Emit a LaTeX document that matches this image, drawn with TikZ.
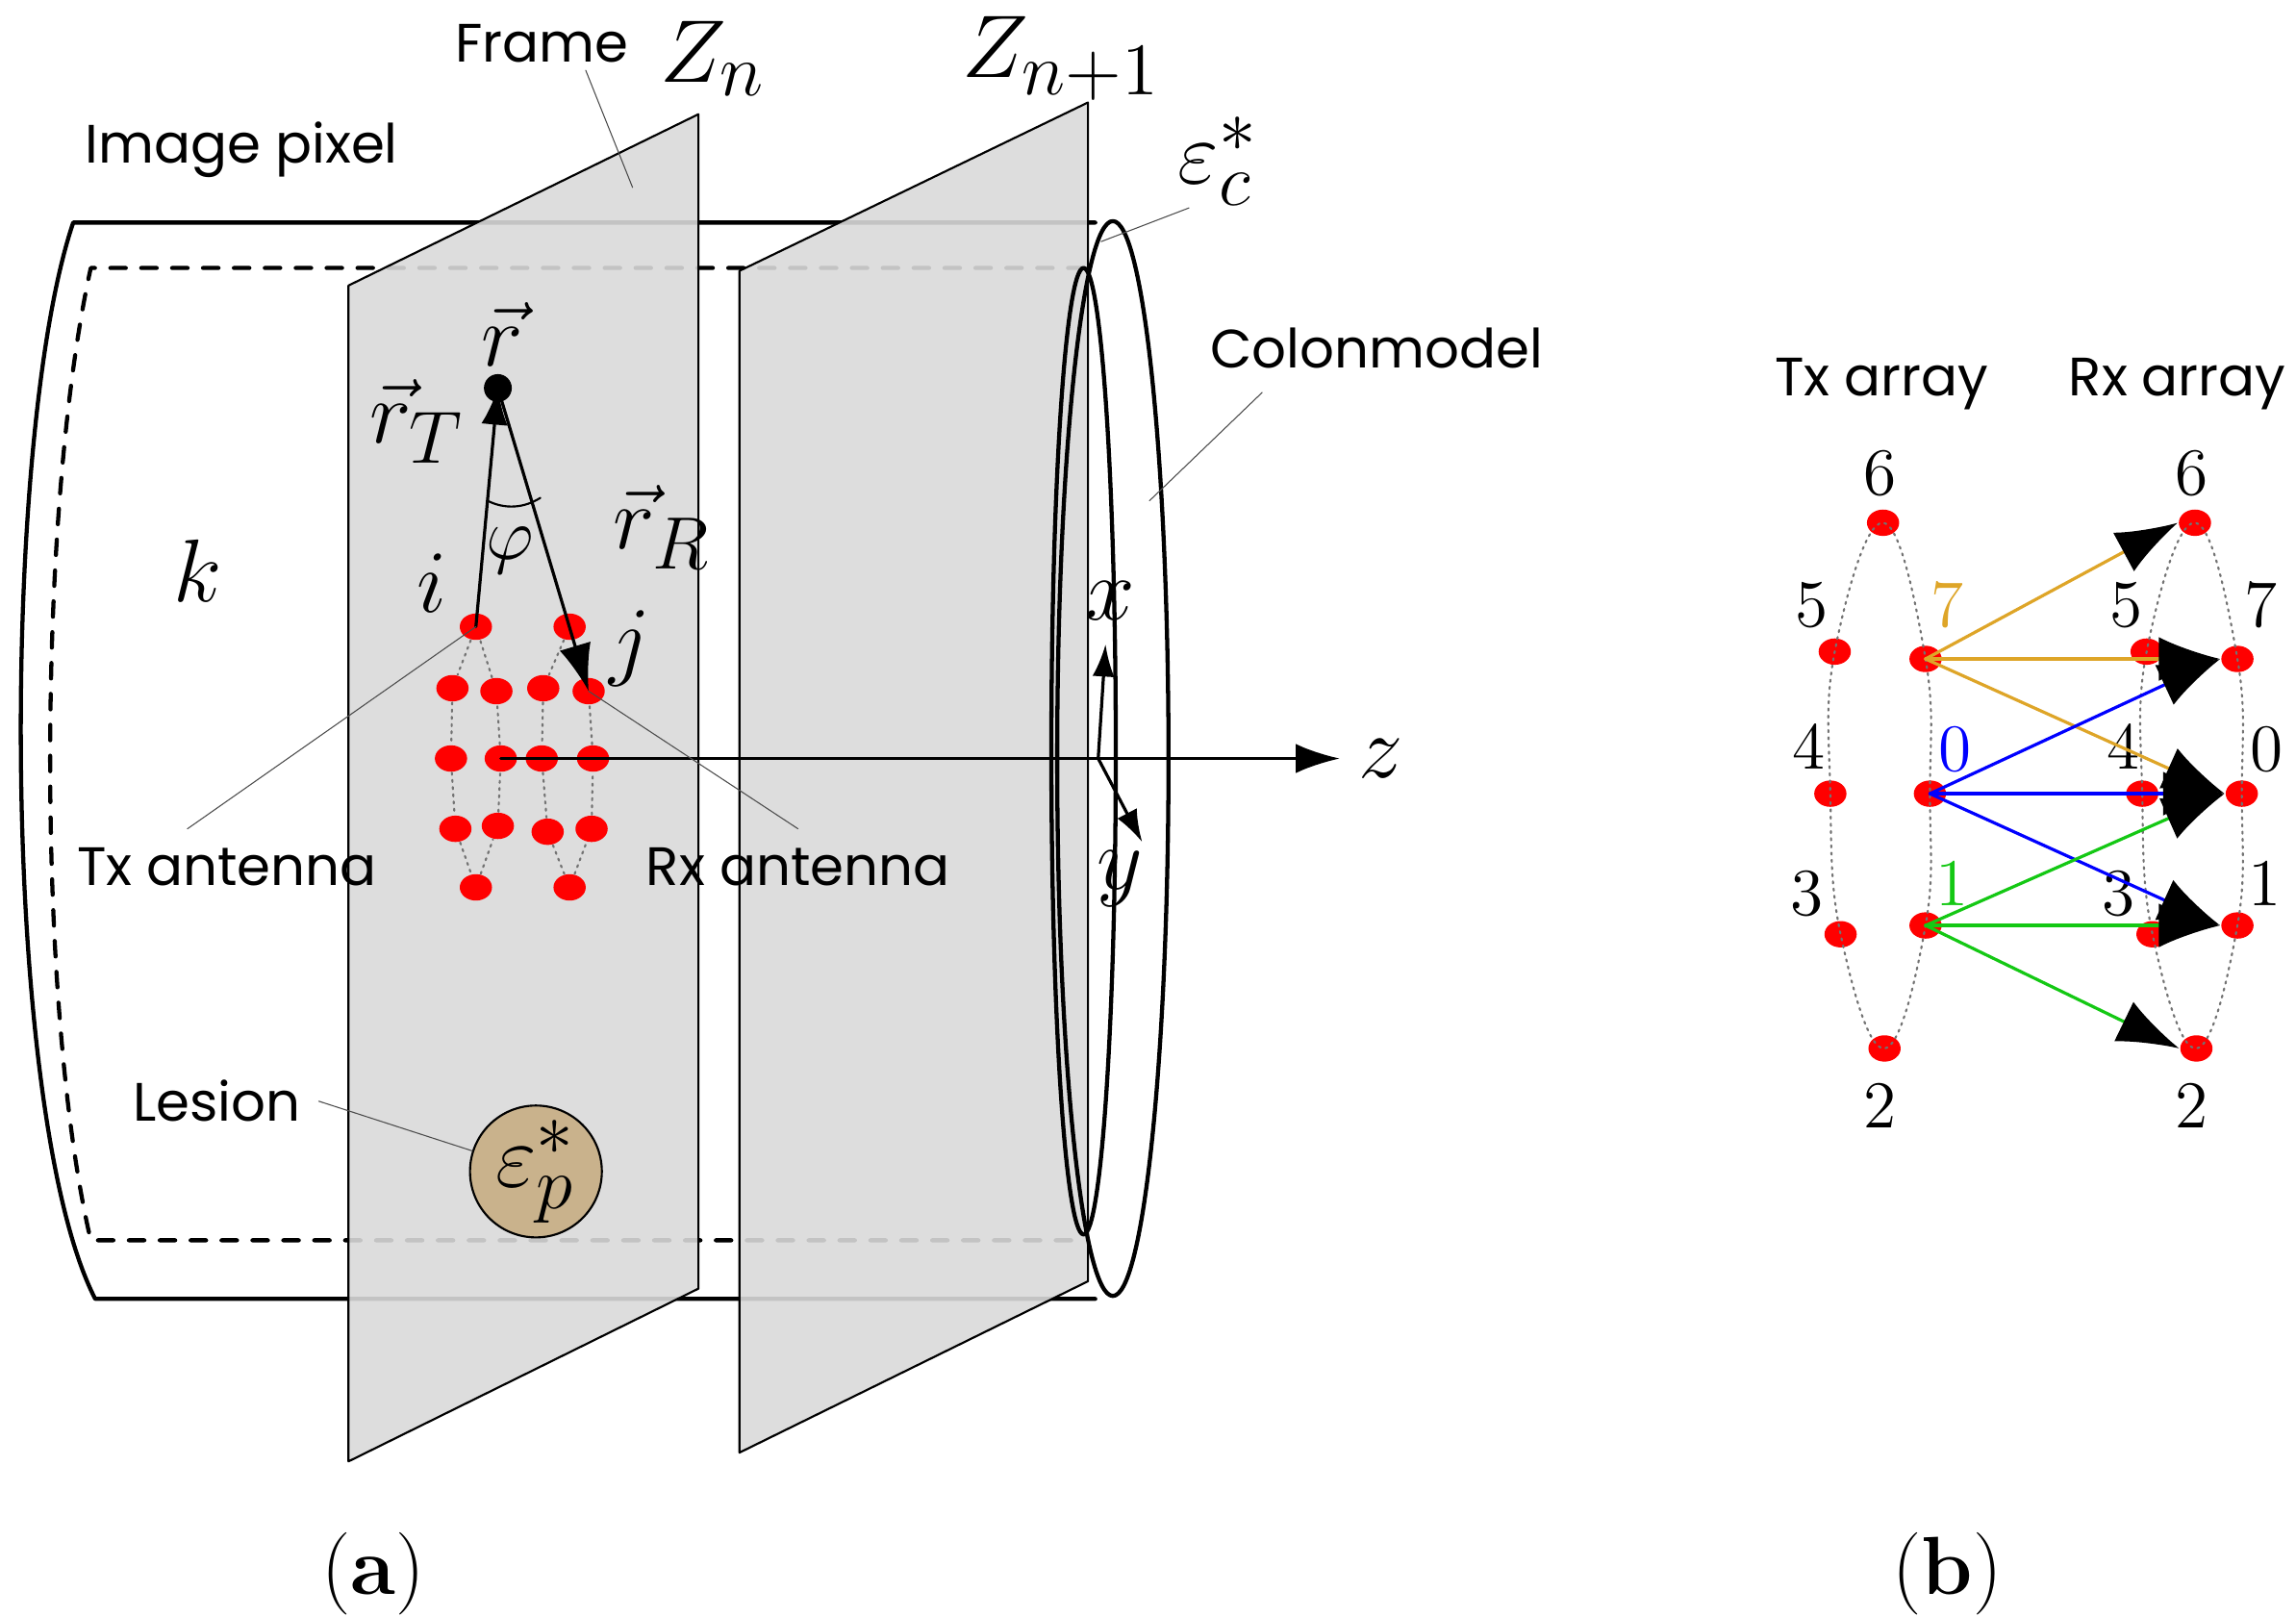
\documentclass[tikz,border=0pt]{standalone}
\usepackage{fontspec}
\usepackage{amsmath}
\setsansfont{Poppins}
\usetikzlibrary{arrows.meta,shapes.geometric}
\definecolor{plane}{RGB}{217,217,217}
\definecolor{lesion}{RGB}{201,178,140}
\definecolor{txorange}{RGB}{222,165,40}
\definecolor{txgreen}{RGB}{20,200,20}
\tikzset{
  dot/.style={ellipse, fill=red, inner sep=0pt, minimum width=0.22cm, minimum height=0.18cm},
  lbl/.style={font=\sffamily\fontsize{10.5}{12}\selectfont},
  mlbl/.style={font=\fontsize{19}{21}\selectfont},
  num/.style={font=\fontsize{13}{15}\selectfont},
  leader/.style={draw=black!70, very thin},
  ring/.style={draw=black!55, densely dotted, thin},
  ray/.style={semithick, -{Latex[length=0.32cm,width=0.22cm]}},
  link/.style={semithick, -{Latex[length=0.42cm,width=0.3cm,color=black]}},
}
\begin{document}
\begin{tikzpicture}[x=0.01cm, y=-0.01cm, line cap=round, line join=round]
  \useasboundingbox (0,0) rectangle (1568,1104);

  % colon cylinder
  \draw[thick] (748,152) -- (50,152) .. controls (0,300) and (0,760) .. (65,887) -- (748,887);
  \draw[thick, dashed] (740,183) -- (62,183) .. controls (25,350) and (25,690) .. (62,847) -- (740,847);

  % frames
  \fill[plane, opacity=0.9] (238,195) -- (477,78) -- (477,880) -- (238,998) -- cycle;
  \draw[thin] (238,195) -- (477,78) -- (477,880) -- (238,998) -- cycle;
  \fill[plane, opacity=0.9] (505,185) -- (743,70) -- (743,875) -- (505,992) -- cycle;
  \draw[thin] (505,185) -- (743,70) -- (743,875) -- (505,992) -- cycle;

  \draw[thick] (760,518) ellipse (38 and 367);
  \draw[thick] (740,513) ellipse (22 and 330);

  % labels
  \node[lbl] (pixel) at (165,102) {Image pixel};
  \node[lbl] (frame) at (370,30) {Frame};
  \coordinate (framept) at (432,128);
  \draw[leader] (400,48) -- (framept);
  \node[mlbl] (zn) at (487,40) {$Z_{n}$};
  \node[mlbl] (zn1) at (725,40) {$Z_{n+1}$};
  \node[mlbl] (epsc) at (832,110) {$\varepsilon_c^*$};
  \coordinate (epscpt) at (752,165);
  \draw[leader] (812,142) -- (epscpt);
  \node[lbl] (colon) at (940,238) {Colonmodel};
  \coordinate (colonpt) at (785,342);
  \draw[leader] (862,268) -- (colonpt);
  \node[mlbl] (k) at (135,390) {$k$};

  % antenna arrays
  \foreach \n/\x/\y in {i/325/428, t1/309/470, t2/339/472, t3/308/518, t4/342/518, t5/311/566, t6/340/564, t7/325/606}
    \node[dot] (\n) at (\x,\y) {};
  \foreach \n/\x/\y in {r0/389/428, r1/371/470, j/402/472, r3/370/518, r4/405/518, r5/374/568, r6/404/566, r7/389/606}
    \node[dot] (\n) at (\x,\y) {};
  \draw[ring] (i) -- (t1) -- (t3) -- (t5) -- (t7) -- (t6) -- (t4) -- (t2) -- (i);
  \draw[ring] (r0) -- (r1) -- (r3) -- (r5) -- (r7) -- (r6) -- (r4) -- (j) -- (r0);

  % vectors
  \node[circle, fill=black, inner sep=0pt, minimum size=0.19cm] (pt) at (340,265) {};
  \draw[semithick, {Latex[length=0.25cm,width=0.18cm]}-] (pt.center) -- (i.center);
  \draw[ray] (pt.center) -- (j.center);
  \draw[thin] (333,342) .. controls (345,348) and (358,347) .. (369,340);
  \node[mlbl] (rvec) at (343,228) {$\vec{r}$};
  \node[mlbl] (rT) at (285,288) {$\vec{r}_T$};
  \node[mlbl] (rR) at (452,360) {$\vec{r}_R$};
  \node[font=\fontsize{14}{16}\selectfont] (phi) at (348,376) {$\varphi$};
  \node[mlbl] (ilbl) at (295,398) {$i$};
  \node[mlbl] (jlbl) at (430,443) {$j$};

  % axes
  \coordinate (orig) at (750,518);
  \draw[semithick, -{Latex[length=0.3cm,width=0.2cm]}] (t4.center) -- (915,518) node[right, mlbl] (zl) {$z$};
  \draw[semithick, -{Latex[length=0.22cm,width=0.15cm]}] (orig) -- (755,440);
  \node[mlbl] (xl) at (758,410) {$x$};
  \draw[semithick, -{Latex[length=0.22cm,width=0.15cm]}] (orig) -- (780,575);
  \node[mlbl] (yl) at (765,600) {$y$};

  \node[lbl] (txant) at (155,592) {Tx antenna};
  \draw[leader] (128,566) -- (i.center);
  \node[lbl] (rxant) at (545,592) {Rx antenna};
  \draw[leader] (545,566) -- (j.center);

  % lesion
  \node[circle, draw=black, fill=lesion, minimum size=0.9cm, inner sep=0pt, mlbl] (lesion) at (366,800) {$\varepsilon_p^*$};
  \node[lbl] (lesionlbl) at (148,752) {Lesion};
  \draw[leader] (lesionlbl.east) -- (lesion);

  % (b) arrays
  \node[lbl] (txarr) at (1285,262) {Tx array};
  \node[lbl] (rxarr) at (1487,262) {Rx array};
  \foreach \p/\dx in {T/0, R/213} {
    \foreach \n/\x/\y in {6/1286/357, 5/1253/445, 7/1315/450, 4/1250/542, 0/1318/542, 3/1257/638, 1/1315/632, 2/1287/716}
      \node[dot] (\p\n) at (\x+\dx,\y) {};
    \draw[ring] plot[smooth cycle, tension=0.7] coordinates {(\p6) (\p7) (\p0) (\p1) (\p2) (\p3) (\p4) (\p5)};
  }
  \foreach \n/\x/\y/\c in {6/1284/323/black, 5/1237/413/black, 7/1330/413/txorange, 4/1235/510/black, 0/1335/512/blue, 3/1234/610/black, 1/1333/603/txgreen, 2/1284/755/black}
    \node[num, text=\c] (lt\n) at (\x,\y) {\n};
  \foreach \n/\x/\y in {6/1497/323, 5/1452/413, 7/1544/413, 4/1450/510, 0/1548/512, 3/1447/610, 1/1547/603, 2/1497/755}
    \node[num] (lr\n) at (\x,\y) {\n};
  \foreach \t in {6,7,0}
    \draw[link, draw=txorange] (T7.center) -- (R\t.west);
  \foreach \t in {0,7,1}
    \draw[link, draw=blue] (T0.center) -- (R\t.west);
  \foreach \t in {0,1,2}
    \draw[link, draw=txgreen] (T1.center) -- (R\t.west);

  \node[font=\fontsize{16}{18}\selectfont] (capa) at (255,1075) {(\textbf{a})};
  \node[font=\fontsize{16}{18}\selectfont] (capb) at (1330,1075) {(\textbf{b})};
\end{tikzpicture}
\end{document}
